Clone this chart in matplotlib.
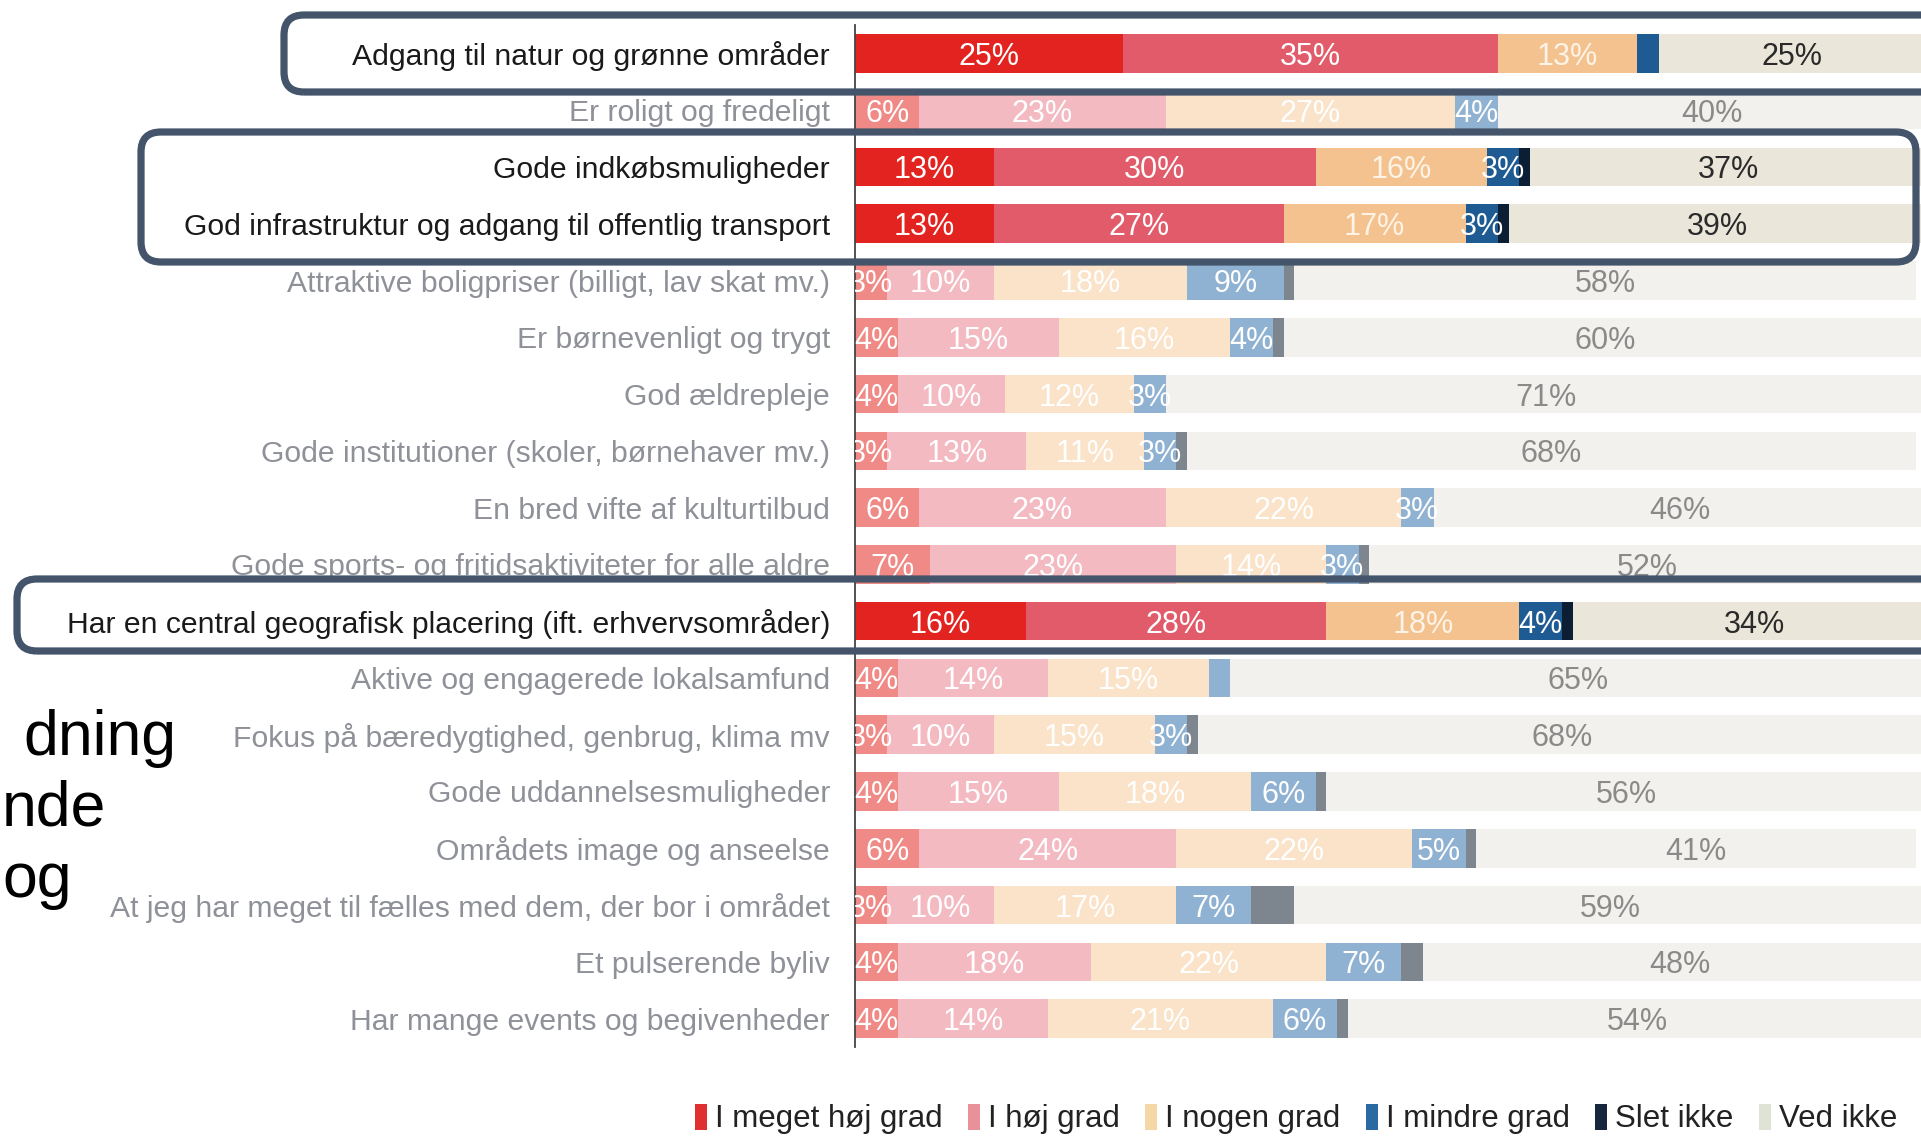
import matplotlib
matplotlib.use("Agg")
import matplotlib.pyplot as plt
from matplotlib.patches import FancyBboxPatch, Patch
import numpy as np

plt.rcParams['font.family'] = ['Liberation Sans', 'DejaVu Sans']

categories = [
    "Adgang til natur og grønne områder",
    "Er roligt og fredeligt",
    "Gode indkøbsmuligheder",
    "God infrastruktur og adgang til offentlig transport",
    "Attraktive boligpriser (billigt, lav skat mv.)",
    "Er børnevenligt og trygt",
    "God ældrepleje",
    "Gode institutioner (skoler, børnehaver mv.)",
    "En bred vifte af kulturtilbud",
    "Gode sports- og fritidsaktiviteter for alle aldre",
    "Har en central geografisk placering (ift. erhvervsområder)",
    "Aktive og engagerede lokalsamfund",
    "Fokus på bæredygtighed, genbrug, klima mv",
    "Gode uddannelsesmuligheder",
    "Områdets image og anseelse",
    "At jeg har meget til fælles med dem, der bor i området",
    "Et pulserende byliv",
    "Har mange events og begivenheder",
]
series_names = ["I meget høj grad", "I høj grad", "I nogen grad",
                "I mindre grad", "Slet ikke", "Ved ikke"]
meget_hoej = [25, 6, 13, 13, 3, 4, 4, 3, 6, 7, 16, 4, 3, 4, 6, 3, 4, 4]
hoej = [35, 23, 30, 27, 10, 15, 10, 13, 23, 23, 28, 14, 10, 15, 24, 10, 18, 14]
nogen = [13, 27, 16, 17, 18, 16, 12, 11, 22, 14, 18, 15, 15, 18, 22, 17, 22, 21]
mindre = [2, 4, 3, 3, 9, 4, 3, 3, 3, 3, 4, 2, 3, 6, 5, 7, 7, 6]
slet_ikke = [0, 0, 1, 1, 1, 1, 0, 1, 0, 1, 1, 0, 1, 1, 1, 4, 2, 1]
ved_ikke = [25, 40, 37, 39, 58, 60, 71, 68, 46, 52, 34, 65, 68, 56, 41, 59, 48, 54]
highlighted = [0, 2, 3, 10]
title_fragments = ["dning", "nde", "og"]

series = [meget_hoej, hoej, nogen, mindre, slet_ikke, ved_ikke]

hi_colors = ['#e3231f', '#e15b6b', '#f4c28f', '#1f5b93', '#0c1e33', '#ebe6da']
lo_colors = ['#f08a86', '#f3bac2', '#fae3c8', '#8fb1d2', '#7d858e', '#f3f1ed']
legend_colors = ['#e02f2f', '#e8919b', '#f6d8a6', '#2a6aa3', '#15263d', '#dfe3d5']
hi_txt = ['white', 'white', '#fdf3e6', 'white', 'white', '#2a2a2a']
lo_txt = ['white', 'white', 'white', 'white', 'white', '#8a8a8a']

W, H = 1921, 1136
fig = plt.figure(figsize=(W / 100, H / 100), dpi=100)
ax = fig.add_axes([855 / W, 1 - 1047 / H, (W - 855) / W, (1047 - 25) / H])

n = len(categories)
y = np.arange(n)
left = np.zeros(n)
for k, vals in enumerate(series):
    vals = np.array(vals, dtype=float)
    cols = [hi_colors[k] if i in highlighted else lo_colors[k] for i in range(n)]
    ax.barh(y, vals, left=left, height=0.68, color=cols, edgecolor='none')
    if k != 4:
        for i in range(n):
            if vals[i] >= 3:
                c = hi_txt[k] if i in highlighted else lo_txt[k]
                ax.text(left[i] + vals[i] / 2, i, f"{int(vals[i])}%", ha='center',
                        va='center_baseline', fontsize=22, color=c, clip_on=True)
    left += vals

ax.set_xlim(0, 99.5)
ax.set_ylim(n - 0.5, -0.5)
ax.set_yticks(y)
ax.set_yticklabels(categories, fontsize=21.7)
for i, t in enumerate(ax.get_yticklabels()):
    t.set_color('#1a1a1a' if i in highlighted else '#8e9198')
ax.tick_params(axis='y', length=0, pad=18)
ax.set_xticks([])
for s in ['top', 'right', 'bottom']:
    ax.spines[s].set_visible(False)
ax.spines['left'].set_color('#444444')
ax.spines['left'].set_linewidth(1.3)

# Highlight boxes (in inches, pixel-based layout)
def box(x0, top, x1, bottom):
    p = FancyBboxPatch((x0 / 100, (H - bottom) / 100), (x1 - x0) / 100, (bottom - top) / 100,
                       boxstyle="round,pad=0,rounding_size=0.2",
                       transform=fig.dpi_scale_trans, facecolor='none',
                       edgecolor='#44546a', linewidth=5.2, zorder=10)
    fig.add_artist(p)

box(284, 15, 1960, 92)
box(141, 132, 1916, 262)
box(17, 579, 1960, 651)

# Legend
handles = [Patch(facecolor=c, edgecolor='none') for c in legend_colors]
fig.legend(handles, series_names, loc='center', bbox_to_anchor=(1296 / W, 1 - 1119 / H),
           ncol=6, frameon=False, fontsize=22.5, handlelength=0.4, handleheight=0.9,
           handletextpad=0.25, columnspacing=0.8, labelcolor='#222222')

# Visible fragments of the slide title on the left
fig.text(177 / W, 1 - 755 / H, title_fragments[0], ha='right', va='baseline', fontsize=45, color='black')
fig.text(2 / W, 1 - 826 / H, title_fragments[1], ha='left', va='baseline', fontsize=45, color='black')
fig.text(2 / W, 1 - 897 / H, title_fragments[2], ha='left', va='baseline', fontsize=45, color='black')

fig.savefig("out.png", dpi=100)
